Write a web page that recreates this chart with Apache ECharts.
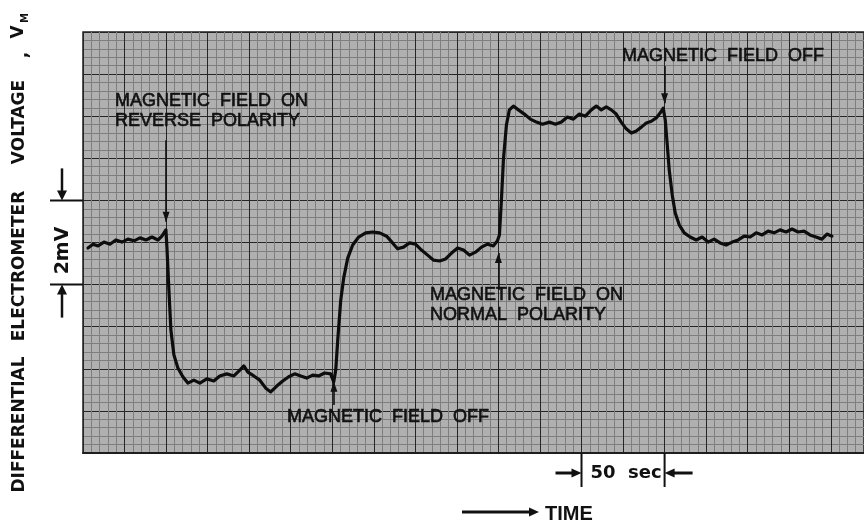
<!DOCTYPE html>
<html><head><meta charset="utf-8">
<script src="https://cdn.jsdelivr.net/npm/echarts@6/dist/echarts.min.js"></script>
<style>html,body{margin:0;padding:0;background:#fff}#c{width:864px;height:524px}</style>
</head><body><div id="c"></div>
<script>
// Time (s) from the left edge of the strip, and differential voltage (mV) above the bottom grid line
const timeSec = [
  3.0,6.0,9.0,12.6,16.2,19.8,23.4,27.0,30.7,34.3,37.9,41.5,45.1,47.5,49.9,
  50.5,51.7,52.9,54.7,57.1,60.1,63.1,66.7,70.3,74.5,78.7,82.3,86.5,90.8,94.4,96.8,99.2,102.8,106.4,110.0,113.0,116.6,120.2,123.8,127.4,131.0,134.6,138.2,141.8,145.4,149.0,150.9,
  152.1,153.3,155.1,156.9,159.3,162.3,165.9,170.1,174.3,178.5,182.7,186.3,189.3,192.9,196.5,200.1,203.7,207.4,211.0,214.6,218.2,221.8,225.4,229.0,232.6,236.2,239.8,243.4,247.0,249.4,
  250.6,251.8,253.0,254.8,256.6,259.0,262.0,265.6,269.2,272.9,276.5,280.7,284.3,287.9,291.5,295.1,298.7,302.3,305.9,308.9,311.9,314.9,317.9,320.9,323.9,326.9,330.0,333.0,336.0,339.0,342.0,345.0,347.4,349.2,
  350.4,351.6,352.8,354.6,356.4,358.8,361.8,365.4,369.0,372.6,376.2,379.8,383.4,387.0,390.7,394.3,397.9,401.5,405.1,408.7,412.3,415.9,419.5,423.1,426.7,430.3,433.9,437.5,441.1,444.7,447.7,450.7
];
const voltageMv = [
  4.87,4.96,4.92,5.01,4.96,5.06,5.01,5.08,5.04,5.11,5.06,5.13,5.06,5.15,5.30,
  4.89,3.87,2.92,2.33,2.02,1.81,1.66,1.73,1.66,1.76,1.71,1.83,1.88,1.83,1.97,2.07,1.92,1.83,1.73,1.54,1.45,1.59,1.71,1.81,1.88,1.83,1.78,1.85,1.83,1.90,1.88,1.69,
  1.97,2.68,3.63,4.16,4.63,4.94,5.13,5.23,5.25,5.23,5.15,4.99,4.85,4.89,4.99,4.96,4.82,4.70,4.58,4.56,4.61,4.75,4.87,4.82,4.70,4.77,4.89,4.96,4.92,5.04,
  5.18,6.01,6.96,7.79,8.15,8.24,8.15,8.05,7.93,7.86,7.81,7.86,7.81,7.86,7.98,7.93,8.05,8.00,8.15,8.24,8.15,8.22,8.15,8.05,7.86,7.70,7.60,7.65,7.74,7.84,7.88,7.96,8.08,8.19,
  7.91,7.32,6.72,6.13,5.70,5.42,5.23,5.13,5.06,5.13,5.01,5.08,4.99,4.94,5.01,5.06,5.15,5.13,5.23,5.18,5.27,5.23,5.30,5.25,5.32,5.25,5.27,5.18,5.13,5.08,5.20,5.15
];
// Event arrows: time, arrow tail and tip (mV)
const eventTimes = [50, 151, 250, 350];
const arrowFrom = [7.43, 1.14, 3.87, 9.19];
const arrowTo = [5.49, 1.69, 4.75, 8.31];
const eventLabels = [
  ['MAGNETIC  FIELD  ON', 'REVERSE  POLARITY'],
  ['MAGNETIC  FIELD  OFF'],
  ['MAGNETIC  FIELD  ON', 'NORMAL  POLARITY'],
  ['MAGNETIC  FIELD  OFF']
];
const scaleMv = [4, 6];      // 2 mV bracket
const scaleSec = [300, 350]; // 50 sec bracket
const axisWords = ['DIFFERENTIAL', 'ELECTROMETER', 'VOLTAGE'];

const seriesData = timeSec.map((t, i) => [t, voltageMv[i]]);

const chart = echarts.init(document.getElementById('c'), null, {renderer: 'canvas'});
const major = {show: true, lineStyle: {color: '#262626', width: 1}};
const minor = {show: true, lineStyle: {color: '#7e7e7e', width: 1}};
chart.setOption({
  animation: false,
  backgroundColor: '#ffffff',
  grid: {left: 83, top: 32, width: 782, height: 421, show: true,
         backgroundColor: '#b0b0b0', borderColor: '#1e1e1e', borderWidth: 1.5},
  xAxis: {type: 'value', min: 0, max: 470, interval: 25,
          axisLine: {show: true, onZero: false, lineStyle: {color: '#1e1e1e', width: 2}},
          axisTick: {show: false}, axisLabel: {show: false},
          splitLine: major, minorTick: {show: false, splitNumber: 5}, minorSplitLine: minor},
  yAxis: {type: 'value', min: 0, max: 10, interval: 1,
          axisLine: {show: false}, axisTick: {show: false}, axisLabel: {show: false},
          splitLine: major, minorTick: {show: false, splitNumber: 5}, minorSplitLine: minor},
  series: [{
    type: 'line', data: seriesData, showSymbol: false, smooth: false, z: 5,
    lineStyle: {color: '#0d0d0d', width: 3.2, join: 'round', cap: 'round'},
    markLine: {
      silent: true, symbol: ['none', 'none'],
      lineStyle: {color: '#111', width: 1.6, type: 'solid'},
      label: {show: false}, emphasis: {disabled: true},
      data: eventTimes.map((t, i) => [{coord: [t, arrowFrom[i]]}, {coord: [t, arrowTo[i]]}])
    }
  }]
});

const px = (t, v) => chart.convertToPixel({gridIndex: 0}, [t, v]);
const y4 = px(0, scaleMv[0])[1], y6 = px(0, scaleMv[1])[1];
const x300 = px(scaleSec[0], 0)[0], x350 = px(scaleSec[1], 0)[0];
const bottomY = px(0, 0)[1];

const ink = '#111';
const annFont = '18px "Liberation Sans", Arial, sans-serif';
function txt(x, y, s, font, heavy) {
  return {type: 'text', x: x, y: y, silent: true, z: 10,
    style: {text: s, font: font, fill: ink, align: 'left', verticalAlign: 'middle',
            stroke: heavy ? ink : null, lineWidth: heavy ? 0.6 : 0}};
}
function rtxt(x, y, s, font) {
  return {type: 'text', x: x, y: y, silent: true, rotation: Math.PI / 2, z: 10,
    style: {text: s, font: font, fill: ink, align: 'center', verticalAlign: 'middle'}};
}
function seg(x1, y1, x2, y2, w) {
  return {type: 'line', silent: true, z: 10, shape: {x1, y1, x2, y2}, style: {stroke: ink, lineWidth: w || 2}};
}
function head(points) {
  return {type: 'polygon', silent: true, z: 10, shape: {points}, style: {fill: ink}};
}
const g = [];
// arrowheads on the event arrows (tips at data coordinates)
eventTimes.forEach((t, i) => {
  const tip = px(t, arrowTo[i]);
  const dir = arrowTo[i] < arrowFrom[i] ? -1 : 1;
  const baseY = tip[1] + (dir < 0 ? -10 : 10);
  g.push(head([[tip[0] - 3.5, baseY], [tip[0] + 3.5, baseY], [tip[0], tip[1]]]));
});
// annotation text blocks
const annPos = [[115, [101.5, 121.5]], [287, [417]], [430, [295, 315]], [622, [56]]];
eventLabels.forEach((lines, i) => {
  lines.forEach((s, j) => g.push(txt(annPos[i][0], annPos[i][1][j], s, annFont, true)));
});
// rotated y-axis title
const labFont = 'bold 17px "DejaVu Sans", sans-serif';
const wordY = [424.5, 266, 122];
axisWords.forEach((w, i) => g.push(rtxt(20, wordY[i], w, labFont)));
g.push(rtxt(23, 55, ',', labFont));
g.push(rtxt(19, 32, 'V', labFont));
g.push(rtxt(25, 18, 'M', 'bold 10px "DejaVu Sans", sans-serif'));
// 2 mV bracket
g.push(seg(50, y6, 83, y6, 2), seg(50, y4, 83, y4, 2));
g.push(seg(62, y6 - 32, 62, y6 - 8, 2.5), head([[57, y6 - 10], [67, y6 - 10], [62, y6]]));
g.push(seg(62, y4 + 33, 62, y4 + 8, 2.5), head([[57, y4 + 10], [67, y4 + 10], [62, y4]]));
g.push(rtxt(63, (y4 + y6) / 2 + 8, '2mV', 'bold 19px "DejaVu Sans", sans-serif'));
// 50 sec bracket
const by = bottomY + 20;
g.push(seg(x300, bottomY, x300, bottomY + 34, 2), seg(x350, bottomY, x350, bottomY + 34, 2));
g.push(seg(x300 - 26, by, x300 - 8, by, 3), head([[x300 - 10, by - 4.5], [x300 - 10, by + 4.5], [x300, by]]));
g.push(seg(x350 + 28, by, x350 + 8, by, 3), head([[x350 + 10, by - 4.5], [x350 + 10, by + 4.5], [x350, by]]));
g.push({type: 'text', x: (x300 + x350) / 2 + 3, y: by, silent: true, z: 10,
  style: {text: '50  sec', font: 'bold 18px "DejaVu Sans", sans-serif', fill: ink, align: 'center', verticalAlign: 'middle'}});
// TIME arrow
g.push(seg(462, 512, 530, 512, 3), head([[529, 507.5], [529, 516.5], [539, 512]]));
g.push(txt(545, 514, 'TIME', 'bold 20px "Liberation Sans", Arial, sans-serif', false));

chart.setOption({graphic: g});
</script>
</body></html>
